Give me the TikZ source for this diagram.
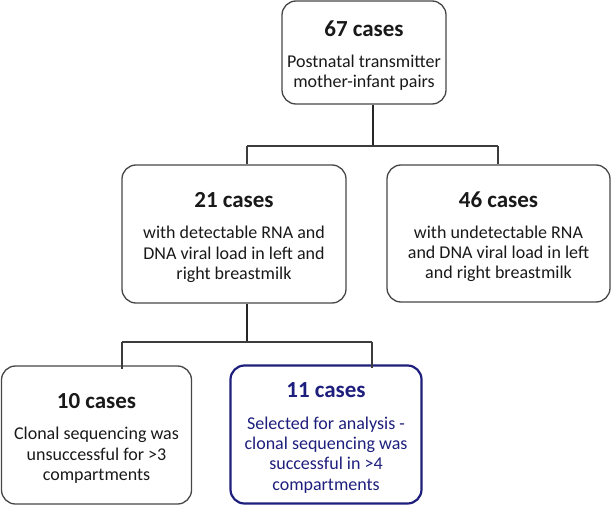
\documentclass[tikz,border=0pt]{standalone}
\usepackage{fontspec}
\setmainfont{Carlito}
\definecolor{navy}{RGB}{30,30,125}
\definecolor{boxgray}{RGB}{70,70,70}
\definecolor{linegray}{RGB}{60,60,60}
\tikzset{
  box/.style={draw=boxgray, line width=1.3pt, rounded corners=14pt, align=center,
    inner sep=0pt, font=\fontsize{18}{20.3}\selectfont, text=black!90},
  bluebox/.style={box, draw=navy, line width=2.2pt, text=navy},
  conn/.style={draw=linegray, line width=1.2pt},
  stem/.style={draw=black!85, line width=1.8pt},
}
\newcommand{\ttl}[1]{{\fontsize{23}{24}\selectfont\bfseries\rule{0pt}{22pt}#1}\\[11pt]}
\begin{document}
\begin{tikzpicture}[x=1pt,y=-1pt]
\useasboundingbox (0,0) rectangle (612,505);
\node[box, minimum width=164pt, minimum height=103pt] (top) at (364,52.5)
  {\ttl{67 cases}Postnatal transmitter\\mother-infant pairs};
\node[box, minimum width=224pt, minimum height=138pt] (b21) at (234,234)
  {\ttl{21 cases}with detectable RNA and\\DNA viral load in left and\\right breastmilk};
\node[box, minimum width=223pt, minimum height=137pt] (b46) at (498.5,233.5)
  {\ttl{46 cases}with undetectable RNA\\and DNA viral load in left\\and right breastmilk};
\node[box, minimum width=190pt, minimum height=138pt] (b10) at (96.5,435)
  {\ttl{10 cases}Clonal sequencing was\\unsuccessful for >3\\compartments};
\node[bluebox, minimum width=191pt, minimum height=138pt] (b11) at (326,434.5)
  {\ttl{11 cases}Selected for analysis -\\clonal sequencing was\\successful in >4\\compartments};
\path (373,146) coordinate (j1) (247,146) coordinate (j1l) (498,146) coordinate (j1r);
\draw[stem] (top.south -| j1) -- (j1);
\draw[conn] (j1l) -- (j1r);
\draw[conn] (j1l) -- (j1l |- b21.north);
\draw[conn] (j1r) -- (j1r |- b46.north);
\path (247,342) coordinate (j2) (122,342) coordinate (j2l) (372,342) coordinate (j2r);
\draw[stem] (b21.south -| j2) -- (j2);
\draw[conn] (j2l) -- (j2r);
\draw[conn] (j2l) -- ([yshift=-4pt]j2l |- b10.north);
\draw[conn] (j2r) -- ([yshift=-4pt]j2r |- b11.north);
\end{tikzpicture}
\end{document}
